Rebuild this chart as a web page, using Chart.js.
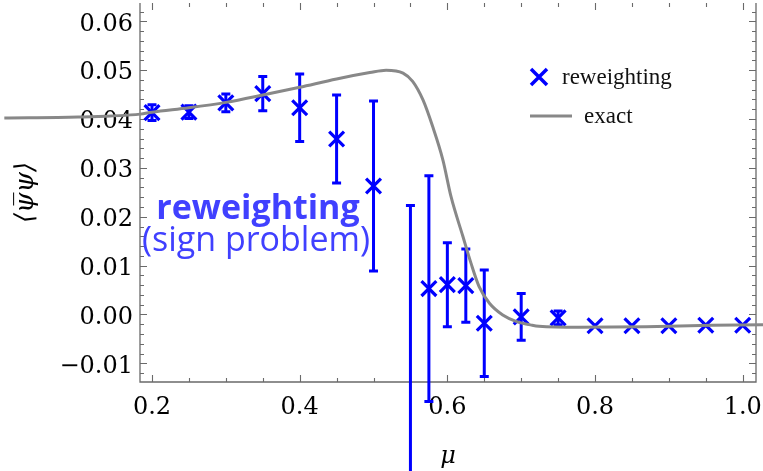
<!DOCTYPE html>
<html>
<head>
  <title>Chiral condensate: reweighting vs exact</title>
  <script src="https://cdn.jsdelivr.net/npm/chart.js"></script>
  <style>
    html, body { margin: 0; padding: 0; background: #fff; }
  </style>
</head>
<body>
  <canvas id="chart" width="763" height="471"></canvas>

  <script>
    // reweighting results (mu, <psibar psi>, error)
    const muValues = [0.2, 0.25, 0.3, 0.35, 0.4, 0.45, 0.5, 0.55, 0.575, 0.6, 0.625, 0.65, 0.7, 0.75, 0.8, 0.85, 0.9, 0.95, 1.0];
    const condensate = [0.0413, 0.0414, 0.0433, 0.0452, 0.0423, 0.0359, 0.0263, -0.050, 0.0053, 0.0061, 0.0059, -0.0018, -0.0005, -0.0007, -0.0023, -0.0023, -0.0023, -0.0022, -0.0022];
    const errors = [0.0016, 0.0013, 0.0018, 0.0035, 0.0069, 0.0090, 0.0174, 0.0723, 0.0231, 0.0086, 0.0075, 0.0109, 0.0048, 0.0014, 0, 0, 0, 0, 0];

    // exact curve
    const exactMu = [0.0, 0.1, 0.184, 0.2, 0.25, 0.3, 0.35, 0.4, 0.45, 0.495, 0.517, 0.54, 0.553, 0.567, 0.58, 0.594, 0.605, 0.621, 0.632, 0.643, 0.657, 0.675, 0.693, 0.715, 0.724, 0.778, 0.869, 0.958, 1.1];
    const exactValues = [0.0402, 0.0404, 0.0410, 0.0414, 0.0423, 0.0434, 0.0449, 0.0465, 0.0482, 0.0495, 0.0500, 0.0494, 0.0477, 0.0439, 0.0385, 0.0316, 0.0241, 0.0160, 0.0105, 0.0057, 0.0023, -0.0001, -0.0014, -0.0022, -0.0024, -0.0026, -0.0025, -0.0022, -0.0020];

    const xTicks = [0.2, 0.4, 0.6, 0.8, 1.0];
    const yTicks = [-0.01, 0.0, 0.01, 0.02, 0.03, 0.04, 0.05, 0.06];
    const xRange = [0.18375, 1.018];
    const yRange = [-0.01382, 0.06374];

    const blue = '#0000ff';
    const frameColor = '#6a6a6a';

    // minor ticks every 0.05 on x, every 0.002 on y
    const xMinor = [];
    for (let k = 0; k <= 16; k++) xMinor.push(+(0.2 + k * 0.05).toFixed(2));
    const yMinor = [];
    for (let k = -6; k <= 31; k++) yMinor.push(+(k * 0.002).toFixed(3));

    function fmtY(v) {
      return v < 0 ? '\u2212' + Math.abs(v).toFixed(2) : v.toFixed(2);
    }

    // frame with inward ticks (Mathematica style)
    const framePlugin = {
      id: 'frame',
      beforeDatasetsDraw(chart) {
        const {ctx, chartArea: a, scales: {x, y}} = chart;
        ctx.save();
        ctx.strokeStyle = frameColor;
        ctx.lineWidth = 1.3;
        ctx.beginPath();
        ctx.moveTo(a.left, a.top);
        ctx.lineTo(a.left, a.bottom);
        ctx.lineTo(a.right, a.bottom);
        ctx.lineTo(a.right, a.top);
        ctx.stroke();

        ctx.lineWidth = 1.1;
        ctx.beginPath();
        xMinor.forEach(v => {
          const px = Math.round(x.getPixelForValue(v)) + 0.5;
          const len = xTicks.some(t => Math.abs(t - v) < 1e-6) ? 7 : 4;
          ctx.moveTo(px, a.bottom); ctx.lineTo(px, a.bottom - len);
          ctx.moveTo(px, a.top); ctx.lineTo(px, a.top + len);
        });
        yMinor.forEach(v => {
          const py = Math.round(y.getPixelForValue(v)) + 0.5;
          if (py < a.top || py > a.bottom) return;
          const len = yTicks.some(t => Math.abs(t - v) < 1e-6) ? 7 : 4;
          ctx.moveTo(a.left, py); ctx.lineTo(a.left + len, py);
          ctx.moveTo(a.right, py); ctx.lineTo(a.right - len, py);
        });
        ctx.stroke();

        // error bars
        ctx.strokeStyle = blue;
        ctx.lineWidth = 3;
        muValues.forEach((m, i) => {
          if (!errors[i]) return;
          const px = x.getPixelForValue(m);
          const top = y.getPixelForValue(condensate[i] + errors[i]);
          const bot = y.getPixelForValue(condensate[i] - errors[i]);
          ctx.beginPath();
          ctx.moveTo(px, top); ctx.lineTo(px, bot);
          ctx.moveTo(px - 4.5, top); ctx.lineTo(px + 4.5, top);
          ctx.moveTo(px - 4.5, bot); ctx.lineTo(px + 4.5, bot);
          ctx.stroke();
        });
        ctx.restore();
      }
    };

    // legend and text label
    const overlayPlugin = {
      id: 'overlay',
      afterDraw(chart) {
        const ctx = chart.ctx;
        ctx.save();
        // legend: cross marker
        ctx.strokeStyle = blue;
        ctx.lineWidth = 3.5;
        ctx.beginPath();
        ctx.moveTo(531, 69); ctx.lineTo(547, 85);
        ctx.moveTo(547, 69); ctx.lineTo(531, 85);
        ctx.stroke();
        // legend: gray line
        ctx.strokeStyle = '#888888';
        ctx.lineWidth = 3;
        ctx.beginPath();
        ctx.moveTo(530, 116); ctx.lineTo(572, 116);
        ctx.stroke();

        ctx.fillStyle = '#111';
        ctx.font = '23px "Liberation Serif"';
        ctx.textBaseline = 'alphabetic';
        ctx.textAlign = 'left';
        ctx.fillText('reweighting', 562, 84);
        ctx.fillText('exact', 584, 123);

        // annotation
        ctx.fillStyle = 'rgb(64,64,255)';
        ctx.textAlign = 'center';
        ctx.font = 'bold 34px "Open Sans"';
        ctx.fillText('reweighting', 258, 219);
        ctx.font = '34px "Open Sans"';
        ctx.fillText('(sign problem)', 256, 251);
        ctx.restore();
      }
    };

    const ctx = document.getElementById('chart').getContext('2d');
    Chart.defaults.font.family = '"DejaVu Serif"';
    Chart.defaults.color = '#000';

    const chart = new Chart(ctx, {
      type: 'scatter',
      data: {
        datasets: [
          {
            label: 'reweighting',
            data: muValues.map((m, i) => ({x: m, y: condensate[i]})),
            pointStyle: 'crossRot',
            pointRadius: 10.5,
            pointBorderWidth: 3.2,
            borderColor: blue,
            backgroundColor: blue,
            showLine: false,
            clip: false,
            order: 1
          },
          {
            label: 'exact',
            data: exactMu.map((m, i) => ({x: m, y: exactValues[i]})),
            showLine: true,
            pointRadius: 0,
            borderColor: '#888888',
            borderWidth: 3,
            cubicInterpolationMode: 'monotone',
            clip: false,
            order: 0
          }
        ]
      },
      options: {
        responsive: false,
        animation: false,
        layout: { autoPadding: false, padding: { top: 3, right: 7, left: 0, bottom: 0 } },
        plugins: {
          legend: { display: false },
          tooltip: { enabled: false }
        },
        scales: {
          x: {
            type: 'linear',
            bounds: 'data',
            grid: { display: false, drawTicks: false },
            border: { display: false },
            afterDataLimits: s => { s.min = xRange[0]; s.max = xRange[1]; },
            afterBuildTicks: s => { s.ticks = xTicks.map(v => ({value: v})); },
            afterFit: s => { s.height = 89; s.paddingLeft = 0; s.paddingRight = 0; },
            ticks: {
              padding: 11,
              maxRotation: 0,
              font: { size: 24 },
              callback: v => v.toFixed(1)
            },
            title: {
              display: true,
              text: 'μ',
              font: { size: 24, style: 'italic' },
              padding: { top: 0, bottom: 0 }
            }
          },
          y: {
            type: 'linear',
            bounds: 'data',
            grid: { display: false, drawTicks: false },
            border: { display: false },
            afterDataLimits: s => { s.min = yRange[0]; s.max = yRange[1]; },
            afterBuildTicks: s => { s.ticks = yTicks.map(v => ({value: v})); },
            afterFit: s => { s.width = 140; s.paddingTop = 0; s.paddingBottom = 0; },
            ticks: {
              padding: 7,
              labelOffset: 3,
              font: { size: 24 },
              callback: v => fmtY(v)
            },
            title: {
              display: true,
              text: '\u27E8\u03C8\u0305\u03C8\u27E9',
              font: { size: 26, style: 'italic' },
              padding: { top: 11, bottom: 0 }
            }
          }
        }
      },
      plugins: [framePlugin, overlayPlugin]
    });
  </script>
</body>
</html>
